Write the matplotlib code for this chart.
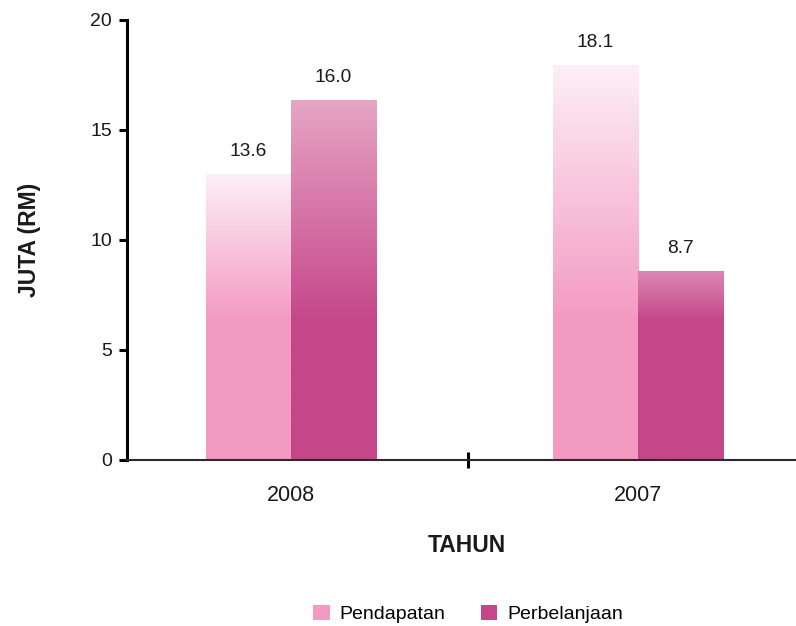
import numpy as np
import matplotlib.pyplot as plt
from matplotlib.colors import LinearSegmentedColormap

plt.rcParams['font.family'] = ['Liberation Sans', 'DejaVu Sans']

# data
years = ["2008", "2007"]
pendapatan = [13.0, 17.95]
perbelanjaan = [16.35, 8.6]
pendapatan_labels = ["13.6", "18.1"]
perbelanjaan_labels = ["16.0", "8.7"]

fig = plt.figure(figsize=(7.96, 6.26), dpi=100)
ax = fig.add_axes([127 / 796, 1 - 460 / 626, 1 - 127 / 796, 440 / 626])

x = np.arange(len(years))
w = 0.245
solid_level = 6.3  # gradient fades from this value up to the bar top
min_span = 3.3     # short bars don't reach the lightest colour

series = [
    (pendapatan, pendapatan_labels, -w / 2, "#f39ac2", "#fdeff5", "Pendapatan"),
    (perbelanjaan, perbelanjaan_labels, w / 2, "#c5478a", "#e6a5c4", "Perbelanjaan"),
]

for vals, labs, off, dark, light, name in series:
    bars = ax.bar(x + off, vals, w, color=dark, label=name, zorder=2)
    cmap = LinearSegmentedColormap.from_list(name, [dark, light])
    for b, v, lab in zip(bars, vals, labs):
        x0 = b.get_x()
        rows = np.linspace(0, v, 300)
        span = max(v - solid_level, min_span)
        grad = np.clip((rows - solid_level) / span, 0, 1).reshape(-1, 1)
        im = ax.imshow(grad, cmap=cmap, vmin=0, vmax=1, origin="lower",
                       extent=[x0, x0 + w, 0, v], aspect="auto", zorder=2.5)
        im.set_clip_path(b)
        ax.annotate(lab, (x0 + w / 2, v), xytext=(0, 10), textcoords="offset points",
                    ha="center", va="bottom", fontsize=13.8, color="#1a1a1a")

ax.set_xlim(-0.4726, 1.455)
ax.set_ylim(0, 20)
ax.set_yticks([0, 5, 10, 15, 20])
ax.set_xticks(x)
ax.set_xticklabels(years)
ax.set_xticks([0.51], minor=True)
ax.tick_params(axis="x", which="major", length=0, pad=18, labelsize=15.5, labelcolor="#1a1a1a")
ax.tick_params(axis="x", which="minor", direction="inout", length=11.5, width=2.2, color="black")
ax.tick_params(axis="y", length=5.8, width=2.2, pad=5, labelsize=14, labelcolor="#1a1a1a")

for s in ["top", "right"]:
    ax.spines[s].set_visible(False)
ax.spines["left"].set_linewidth(2.2)
ax.spines["left"].set_color("black")
ax.spines["bottom"].set_linewidth(1.5)
ax.spines["bottom"].set_color("#2b2b2b")
ax.spines["bottom"].set_zorder(3)

fig.text(30 / 796, 1 - 240 / 626, "JUTA (RM)", rotation=90, ha="center", va="center",
         fontsize=16.5, fontweight="bold", color="#1a1a1a")
fig.text(467 / 796, 1 - 545 / 626, "TAHUN", ha="center", va="center",
         fontsize=16.5, fontweight="bold", color="#1a1a1a")

fig.legend(loc="center", bbox_to_anchor=(468 / 796, 1 - 614 / 626), ncol=2, frameon=False,
           fontsize=14, handlelength=0.87, handleheight=0.87, handletextpad=0.5,
           columnspacing=1.8)

fig.savefig("out.png", dpi=100)
